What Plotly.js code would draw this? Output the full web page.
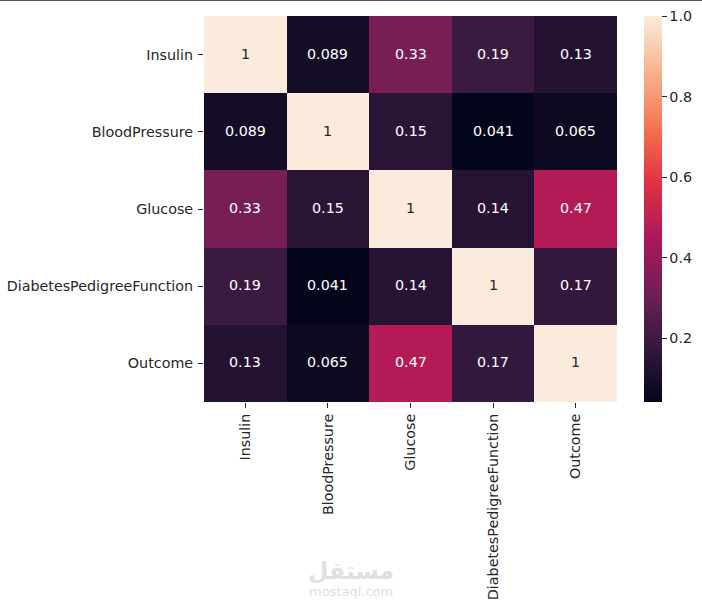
<!DOCTYPE html>
<html>
<head>
<meta charset="utf-8">
<script src="https://cdn.plot.ly/plotly-3.0.1.min.js"></script>
<style>html,body{margin:0;padding:0;background:#fff}</style>
</head>
<body>
<div id="chart" style="width:702px;height:610px"></div>
<script>
const categories = ["Insulin","BloodPressure","Glucose","DiabetesPedigreeFunction","Outcome"];
const rowInsulin = [1,0.089,0.33,0.19,0.13];
const rowBloodPressure = [0.089,1,0.15,0.041,0.065];
const rowGlucose = [0.33,0.15,1,0.14,0.47];
const rowDiabetes = [0.19,0.041,0.14,1,0.17];
const rowOutcome = [0.13,0.065,0.47,0.17,1];
const colorbarTicks = [0.2,0.4,0.6,0.8,1.0];
const rocket = [[0,"#03051a"],[0.143,"#35193e"],[0.286,"#701f57"],[0.429,"#ad1759"],[0.571,"#e13342"],[0.714,"#f37651"],[0.857,"#f6b48f"],[1,"#faebdd"]];
const matrix = [rowInsulin,rowBloodPressure,rowGlucose,rowDiabetes,rowOutcome];
const FONT = "DejaVu Sans, sans-serif";
const INK = "#262626";
const L = 204, R = 4, T = 16, B = 208;
const PW = 702 - L - R, PH = 610 - T - B;
const px = x => (x - L) / PW;
const py = y => (610 - B - y) / PH;

const annotations = [];
matrix.forEach((row,i)=>row.forEach((v,j)=>{
  annotations.push({x:categories[j],y:categories[i],xref:"x",yref:"y",text:String(v),showarrow:false,yshift:1,
    font:{family:FONT,size:14.3,color:v>0.6?INK:"#ffffff"}});
}));
annotations.push({xref:"paper",yref:"paper",x:px(351),y:py(571),xanchor:"center",yanchor:"middle",text:"<b>مستقل</b>",showarrow:false,
  font:{family:FONT,size:23.5,color:"#e0e0e0"}});
annotations.push({xref:"paper",yref:"paper",x:px(351),y:py(591),xanchor:"center",yanchor:"middle",text:"mostaql.com",showarrow:false,
  font:{family:FONT,size:13,color:"#e0e0e0"}});

Plotly.newPlot("chart",[{
  type:"heatmap",x:categories,y:categories,z:matrix,colorscale:rocket,zmin:0.041,zmax:1,
  colorbar:{x:px(644),xanchor:"left",y:0.5,yanchor:"middle",len:1,lenmode:"fraction",thickness:18,thicknessmode:"pixels",
    outlinewidth:0,borderwidth:0,xpad:0,ypad:0,ticks:"outside",ticklen:5,tickwidth:1,tickcolor:INK,
    tickprefix:"\u2005",tickvals:colorbarTicks,tickformat:".1f",tickfont:{family:FONT,size:14.3,color:INK}}
}],{
  width:702,height:610,paper_bgcolor:"#fff",plot_bgcolor:"#fff",
  margin:{l:L,r:R,t:T,b:B,pad:0},showlegend:false,
  xaxis:{type:"category",domain:[0,px(617)],tickangle:-90,ticks:"outside",ticklen:5,tickwidth:1,tickcolor:INK,showgrid:false,zeroline:false,showline:false,
    tickfont:{family:FONT,size:14.3,color:INK},automargin:false},
  yaxis:{type:"category",autorange:"reversed",ticks:"outside",ticklen:5,tickwidth:1,tickcolor:INK,showgrid:false,zeroline:false,showline:false,
    ticklabelstandoff:2,tickfont:{family:FONT,size:14.3,color:INK},automargin:false},
  annotations:annotations,
  shapes:[{type:"rect",xref:"paper",yref:"paper",x0:px(0),x1:px(702),y0:py(1),y1:py(0),fillcolor:"#555555",line:{width:0}}]
},{displayModeBar:false,responsive:false});
</script>
</body>
</html>
